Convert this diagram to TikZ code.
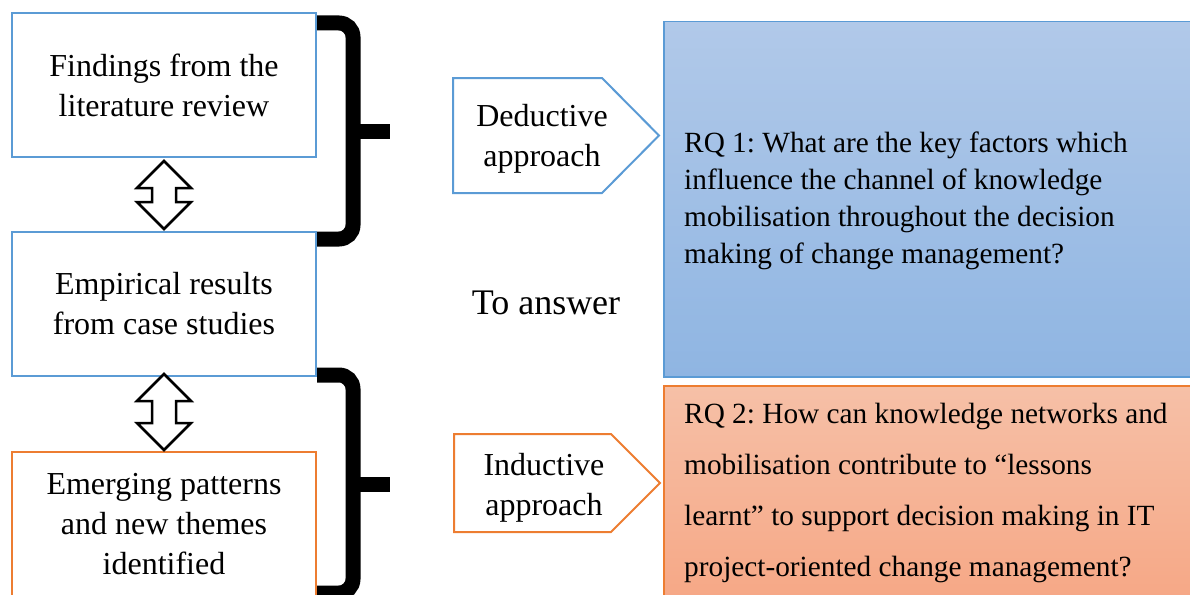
\documentclass[tikz,border=0pt]{standalone}
\usepackage{fontspec}
\setmainfont{Liberation Serif}
\frenchspacing
\definecolor{boxblue}{RGB}{91, 155, 213}
\definecolor{boxorange}{RGB}{237, 125, 49}
\definecolor{rqbluetop}{RGB}{177, 201, 233}
\definecolor{rqbluebot}{RGB}{143, 181, 226}
\definecolor{rqorangetop}{RGB}{246, 192, 167}
\definecolor{rqorangebot}{RGB}{246, 167, 133}
\usepackage{tikz}
\usetikzlibrary{calc}

\begin{document}
\begin{tikzpicture}[x=1pt, y=-1pt,
  srcbox/.style={draw=#1, line width=2pt, fill=white, minimum width=304pt, minimum height=144pt,
    align=center, inner sep=0pt, font=\fontsize{32}{40}\selectfont},
  pent/.style={draw=#1, line width=2pt, fill=white},
  penttext/.style={align=center, inner sep=0pt, font=\fontsize{32}{40}\selectfont},
  rqbox/.style={draw=#1, line width=1.5pt, anchor=north west, minimum width=540pt, inner sep=0pt},
  brace/.style={line width=15pt, rounded corners=14pt},
  dblarrow/.style={draw=black, line width=2.5pt, fill=white, line join=miter}]
  \useasboundingbox (0, 0) rectangle (1190, 594);

  % Sources
  \node[srcbox=boxblue] (lit) at (164, 85) {Findings from the\\literature review};
  \node[srcbox=boxblue] (emp) at (164, 304) {Empirical results\\from case studies};
  \node[srcbox=boxorange] (emg) at (164, 524) {Emerging patterns\\and new themes\\identified};

  % Double arrows
  \draw[dblarrow] let \p1=($(lit.south)+(0,3)$), \p2=($(emp.north)+(0,-2)$) in
    (\p1) -- ++(27pt,-27pt) -- ++(-15pt,0pt) -- (\x1+12pt,\y2+27pt) -- ++(15pt,0pt) -- (\p2)
    -- ++(-27pt,27pt) -- ++(15pt,0pt) -- (\x1-12pt,\y1-27pt) -- ++(-15pt,0pt) -- cycle;
  \draw[dblarrow] let \p1=($(emp.south)+(0,-3)$), \p2=($(emg.north)+(0,-1)$) in
    (\p1) -- ++(27pt,-27pt) -- ++(-15pt,0pt) -- (\x1+12pt,\y2+27pt) -- ++(15pt,0pt) -- (\p2)
    -- ++(-27pt,27pt) -- ++(15pt,0pt) -- (\x1-12pt,\y1-27pt) -- ++(-15pt,0pt) -- cycle;

  % Braces
  \coordinate (b1top) at ($(lit.north east)+(0,11)$);
  \coordinate (b1bot) at ($(emp.north east)+(0,8)$);
  \coordinate (b1mid) at ($(b1top)!0.5!(b1bot)+(36,0)$);
  \draw[brace] (b1top) -| (b1mid) |- (b1bot);
  \draw[brace] (b1mid) -- ++(37,0);
  \coordinate (b2top) at ($(emp.south east)+(0,-2)$);
  \coordinate (b2bot) at ($(emg.south east)+(0,-4)$);
  \coordinate (b2mid) at ($(b2top)!0.5!(b2bot)+(36,0)$);
  \draw[brace] (b2top) -| (b2mid) |- (b2bot);
  \draw[brace] (b2mid) -- ++(37,0);

  % Approaches
  \draw[pent=boxblue] (453, 78) -- (602, 78) -- (659, 135.5) -- (602, 193) -- (453, 193) -- cycle;
  \node[penttext] (ded) at (542, 139) {Deductive\\approach};
  \draw[pent=boxorange] (454, 434) -- (611, 434) -- (660, 483) -- (611, 532) -- (454, 532) -- cycle;
  \node[penttext] (ind) at (544, 488) {Inductive\\approach};

  \node[inner sep=0pt, font=\fontsize{36}{40}\selectfont] (ans) at (546, 303) {To answer};

  % Research questions
  \node[rqbox=boxblue, top color=rqbluetop, bottom color=rqbluebot, minimum height=355pt] (rq1) at (663, 21) {};
  \node[anchor=west, align=left, inner sep=0pt, font=\fontsize{29.3}{37}\selectfont] (rq1text) at (684, 201)
    {RQ 1: What are the key factors which\\influence the channel of knowledge\\mobilisation throughout the decision\\making of change management?};
  \node[rqbox=boxorange, top color=rqorangetop, bottom color=rqorangebot, minimum height=220pt] (rq2) at (663, 385) {};
  \node[anchor=west, align=left, inner sep=0pt, font=\fontsize{29.3}{51}\selectfont] (rq2text) at (684, 493)
    {RQ 2: How can knowledge networks and\\mobilisation contribute to “lessons\\learnt” to support decision making in IT\\project-oriented change management?};
\end{tikzpicture}
\end{document}
